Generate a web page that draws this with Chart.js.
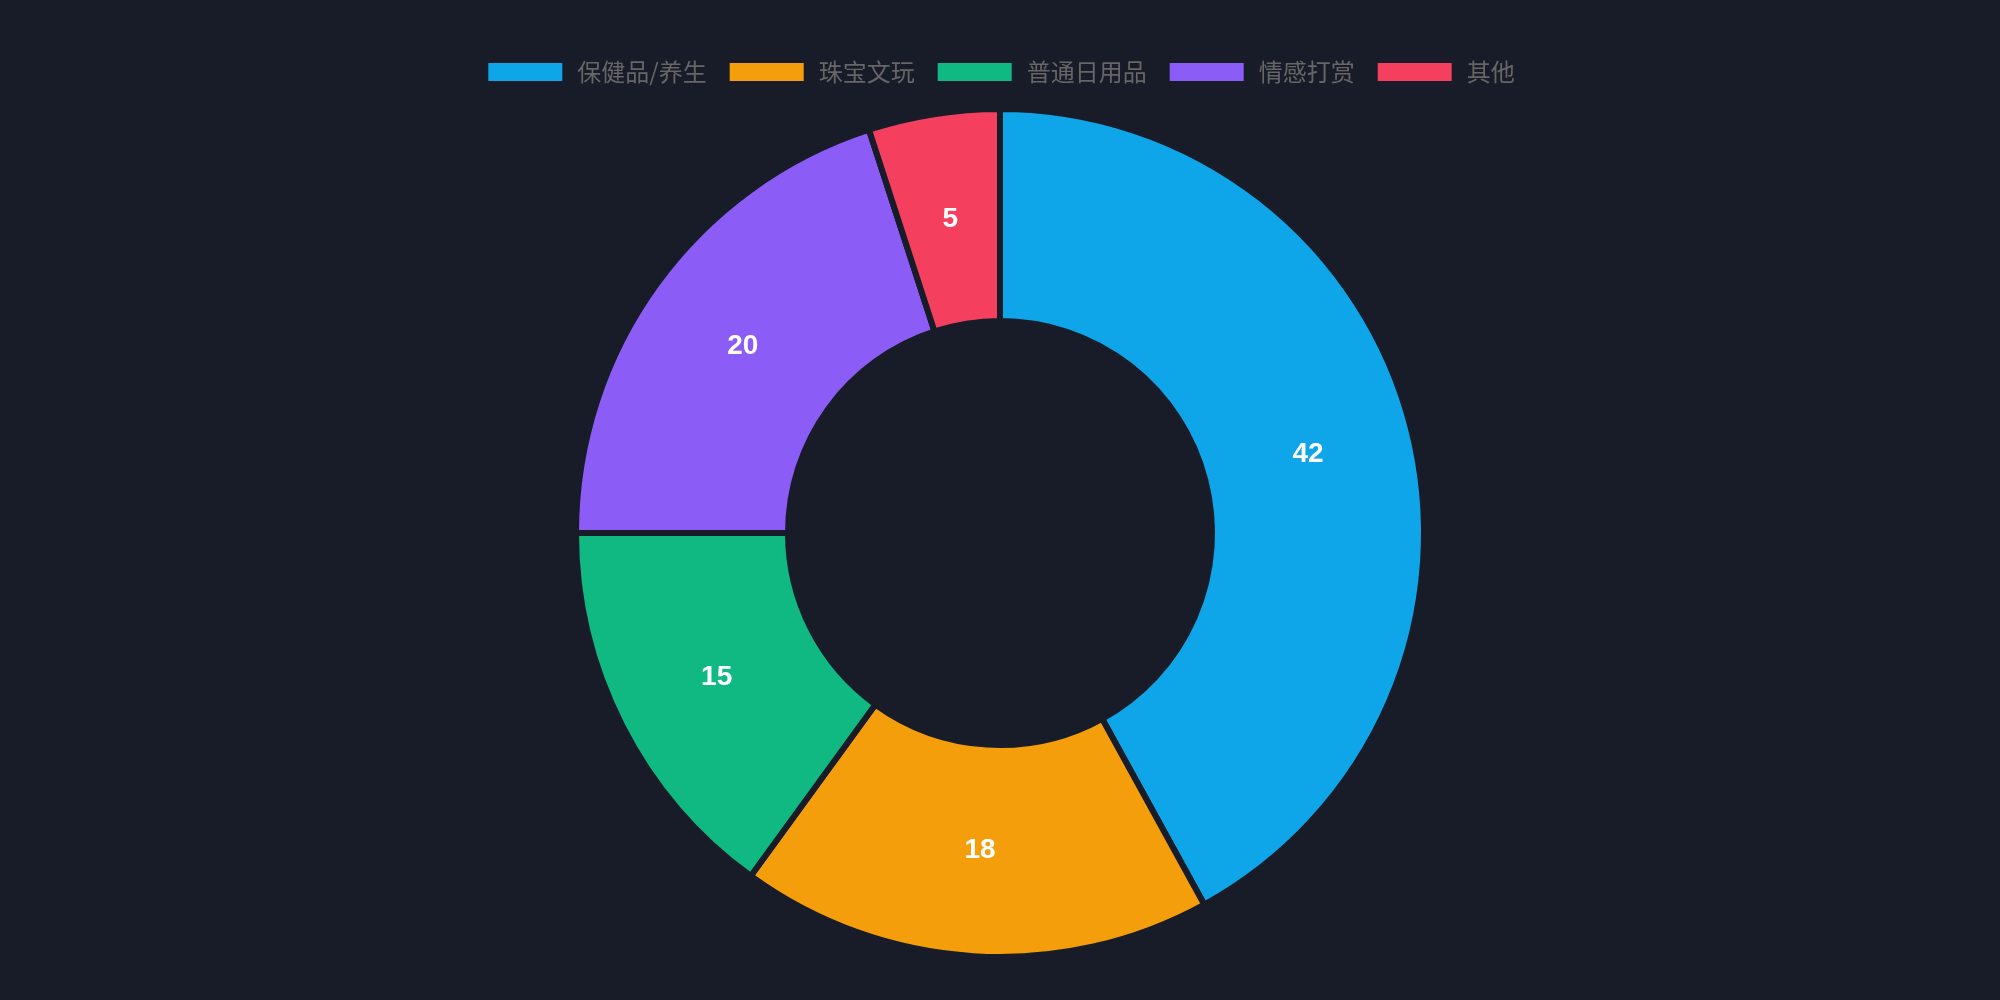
<!DOCTYPE html>
<html>
<head>
<meta charset="utf-8">
<script src="https://cdn.jsdelivr.net/npm/chart.js@4.4.0/dist/chart.umd.min.js"></script>
<style>
  html, body { margin: 0; padding: 0; background: #171c28; }
  #wrap { width: 2000px; height: 1000px; }
</style>
</head>
<body>
<div id="wrap"><canvas id="pie"></canvas></div>
<script>
// Categorias e valores
const categorias = ['保健品/养生', '珠宝文玩', '普通日用品', '情感打赏', '其他'];
const valores = [42, 18, 15, 20, 5];
const cores = ['#0ea5e9', '#f59e0b', '#10b981', '#8b5cf6', '#f43f5e'];

// Plugin simples para escrever os valores no meio de cada fatia
const valoresPlugin = {
    id: 'valores',
    afterDatasetsDraw(chart) {
        const ctx = chart.ctx;
        const meta = chart.getDatasetMeta(0);
        ctx.save();
        ctx.fillStyle = '#ffffff';
        ctx.font = 'bold 28px "Liberation Sans", Arial, sans-serif';
        ctx.textAlign = 'center';
        ctx.textBaseline = 'middle';
        meta.data.forEach((arc, i) => {
            const pos = arc.tooltipPosition();
            ctx.fillText(String(valores[i]), pos.x, pos.y);
        });
        ctx.restore();
    }
};

// Espaço extra por baixo da legenda
const legendaEspaco = {
    id: 'legendaEspaco',
    beforeInit(chart) {
        const fitOriginal = chart.legend.fit;
        chart.legend.fit = function () {
            fitOriginal.bind(chart.legend)();
            this.height += 12;
        };
    }
};

new Chart(document.getElementById('pie'), {
    type: 'doughnut',
    data: {
        labels: categorias,
        datasets: [{
            data: valores,
            backgroundColor: cores,
            borderColor: '#171c28',
            borderWidth: 6
        }]
    },
    options: {
        responsive: true,
        maintainAspectRatio: false,
        animation: false,
        cutout: '50%',
        layout: { padding: { top: 40, bottom: 40 } },
        plugins: {
            legend: {
                position: 'top',
                labels: {
                    color: '#666666',
                    boxWidth: 80,
                    boxHeight: 24,
                    padding: 20,
                    font: { size: 24, family: '"Noto Sans CJK SC", sans-serif' }
                }
            },
            tooltip: { enabled: false }
        }
    },
    plugins: [valoresPlugin, legendaEspaco]
});
</script>
</body>
</html>
